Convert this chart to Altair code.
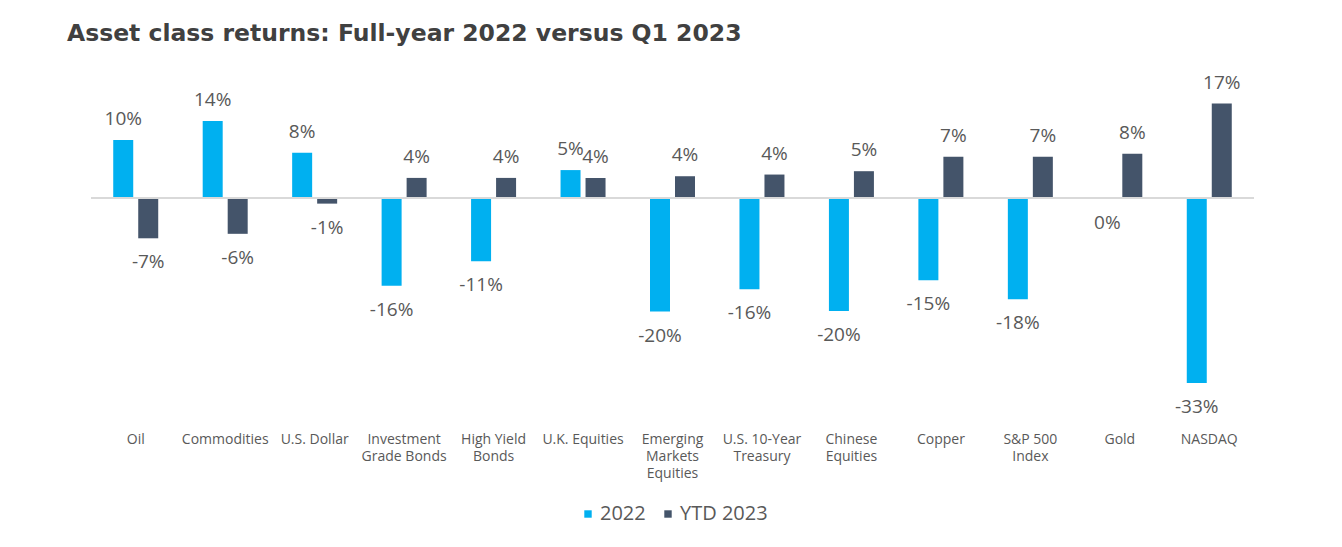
import altair as alt
import pandas as pd

categories = ["Oil", "Commodities", "U.S. Dollar", "Investment|Grade Bonds", "High Yield|Bonds",
              "U.K. Equities", "Emerging|Markets|Equities", "U.S. 10-Year|Treasury",
              "Chinese|Equities", "Copper", "S&P 500|Index", "Gold", "NASDAQ"]
series = ["2022", "YTD 2023"]
values_2022 = [10.4, 13.8, 8.1, -15.7, -11.3, 5.0, -20.3, -16.3, -20.2, -14.7, -18.1, -0.1, -33.1]
values_ytd = [-7.2, -6.4, -1.0, 3.6, 3.6, 3.6, 3.9, 4.2, 4.8, 7.4, 7.4, 7.9, 16.9]
colors = ["#00B0F0", "#44546A"]

rows = []
for cat, v1, v2 in zip(categories, values_2022, values_ytd):
    for s, v in zip(series, [v1, v2]):
        rows.append({"category": cat, "series": s, "value": v, "label": f"{int(round(v))}%"})
df = pd.DataFrame(rows)

FONT = "Open Sans"
TXT = "#595959"
YDOM = [-39.7, 22.9]

x = alt.X("category:N", sort=categories,
          scale=alt.Scale(paddingInner=0.497, paddingOuter=0.2485),
          axis=alt.Axis(title=None, labelAngle=0, domain=False, ticks=False, grid=False,
                        labelExpr="split(datum.label, '|')", labelFont=FONT, labelFontSize=14,
                        labelColor=TXT, labelPadding=12, labelLineHeight=17, labelBaseline="top"))
xo = alt.XOffset("series:N", sort=series, scale=alt.Scale(paddingInner=0.2, paddingOuter=0))
y = alt.Y("value:Q", scale=alt.Scale(domain=YDOM, nice=False, zero=False), axis=None)

base = alt.Chart(df)

zero = alt.Chart(pd.DataFrame({"z": [0]})).mark_rule(color="#D9D9D9", strokeWidth=2).encode(
    y=alt.Y("z:Q", scale=alt.Scale(domain=YDOM, nice=False, zero=False), axis=None))

bars = base.mark_bar().encode(
    x=x, xOffset=xo, y=y,
    color=alt.Color("series:N", sort=series, scale=alt.Scale(domain=series, range=colors),
                    legend=alt.Legend(orient="none", legendX=487, legendY=434, direction="horizontal",
                                      title=None, symbolType="square", symbolSize=55,
                                      symbolStrokeWidth=0, labelFont=FONT, labelFontSize=20,
                                      labelColor=TXT, columnPadding=12, labelOffset=2)))

pos_txt = base.transform_filter("datum.value >= 0").mark_text(
    font=FONT, fontSize=19, color=TXT, baseline="alphabetic", dy=-15).encode(
    x=x, xOffset=xo, y=y, text="label:N")
neg_txt = base.transform_filter("datum.value < 0").mark_text(
    font=FONT, fontSize=19, color=TXT, baseline="alphabetic", dy=30).encode(
    x=x, xOffset=xo, y=y, text="label:N")

chart = alt.layer(bars, zero, pos_txt, neg_txt).properties(
    width=1163, height=350,
    title=alt.TitleParams("Asset class returns: Full-year 2022 versus Q1 2023", anchor="start",
                          frame="group", dx=-24, offset=25, font="DejaVu Sans", fontSize=23.5,
                          fontWeight="bold", color="#404040"),
    autosize=alt.AutoSizeParams(type="none"),
    padding={"left": 83, "top": 62, "right": 40, "bottom": 120},
).configure_view(stroke=None)

chart.save("out.html", embed_options={"renderer": "svg", "actions": False})
